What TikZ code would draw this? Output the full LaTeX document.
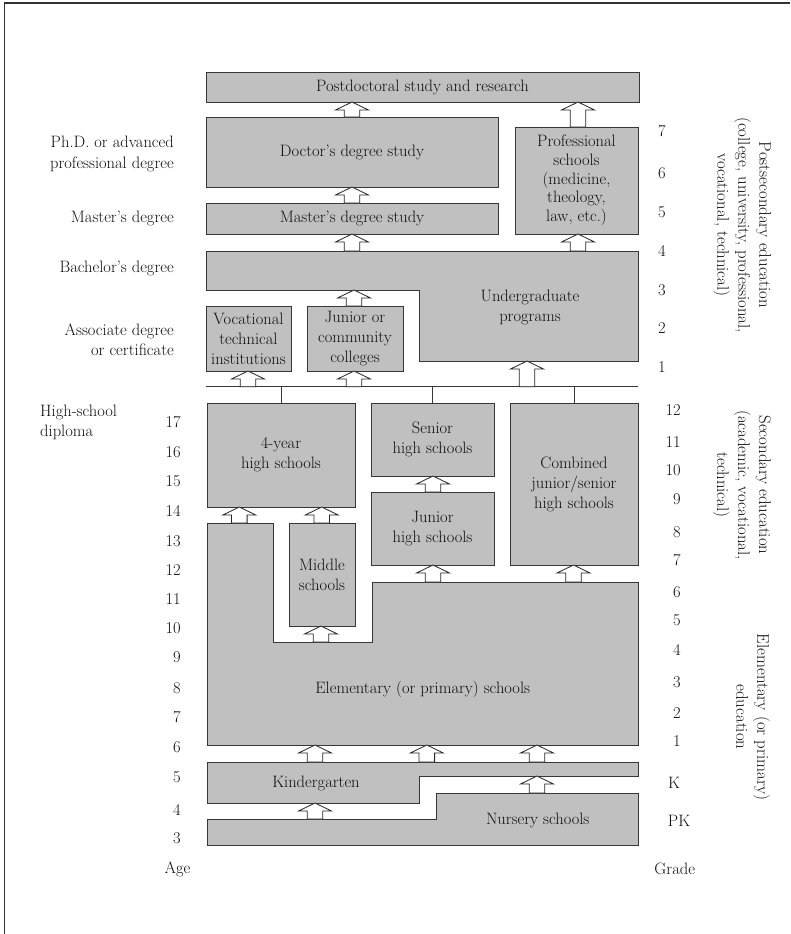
\documentclass[tikz,border=0pt]{standalone}
\usepackage{fontspec}
\usetikzlibrary{calc}
\definecolor{boxgray}{RGB}{192,192,192}
\definecolor{edge}{RGB}{55,55,55}
\definecolor{ink}{RGB}{15,15,15}
\newcommand\blkarr[4][7.8]{%
  \draw[blockarr] let \p1=(#3), \p2=(#4), \p3=(#2,0) in
    (\x3,\y1) -- (\x3+16.5pt,\y1-8pt) -- (\x3+#1pt,\y1-8pt) -- (\x3+#1pt,\y2)
    -- (\x3-#1pt,\y2) -- (\x3-#1pt,\y1-8pt) -- (\x3-16.5pt,\y1-8pt) -- cycle;}
\begin{document}
\begin{tikzpicture}[x=1pt,y=-1pt,
  font=\fontsize{16.5}{20}\selectfont,
  box/.style={draw=edge, fill=boxgray, line width=0.8pt, inner sep=0pt, outer sep=0pt, align=center, text=ink},
  regionbox/.style={draw=edge, fill=boxgray, line width=0.8pt},
  blockarr/.style={draw=black!85, fill=white, line width=0.8pt, line join=miter},
  conn/.style={draw=edge, line width=0.8pt},
  lbl/.style={text=ink, inner sep=0pt},
  side/.style={text=ink, inner sep=0pt, align=center, rotate=-90, font=\fontsize{16.8}{21}\selectfont}]
\useasboundingbox (0,0) rectangle (790,934);
% frame
\draw[black!80, line width=1.3pt] (4.5,934) -- (4.5,3) -- (790,3);

% postsecondary
\node[box, minimum width=433pt, minimum height=30pt] (postdoc) at (422.5,87) {Postdoctoral study and research};
\node[box, minimum width=292pt, minimum height=70pt] (doctor) at (352,152) {Doctor’s degree study};
\node[box, minimum width=292pt, minimum height=31pt] (master) at (352,218.5) {Master’s degree study};
\node[box, minimum width=123pt, minimum height=107pt, font=\fontsize{16.5}{18.7}\selectfont] (prof) at (576.5,180.5) {Professional\\schools\\(medicine,\\theology,\\law, etc.)};
\draw[regionbox] (206,251) -- (638,251) -- (638,361) -- (419,361) -- (419,290) -- (206,290) -- cycle;
\node[lbl, align=center] (ugtext) at (530,307.5) {Undergraduate\\programs};
\coordinate (ug-top) at (300,251);
\coordinate (ug-lbot) at (300,290);
\coordinate (ug-rbot) at (530,361);
\node[box, minimum width=85pt, minimum height=65pt] (voc) at (248.5,338.5) {Vocational\\technical\\institutions};
\node[box, minimum width=96pt, minimum height=65pt] (jc) at (355,338.5) {Junior or\\community\\colleges};

% distribution line
\coordinate (hlw) at (206,386.7);
\coordinate (hle) at (638,386.7);
\coordinate (hl) at (300,386.7);
\draw[conn] (hlw) -- (hle);

% secondary
\node[box, minimum width=148pt, minimum height=104pt] (fouryr) at (281,455) {4-year\\high schools};
\node[box, minimum width=123pt, minimum height=73pt] (senior) at (432.5,439.5) {Senior\\high schools};
\node[box, minimum width=123pt, minimum height=73pt] (juniorhs) at (432.5,528.5) {Junior\\high schools};
\node[box, minimum width=128pt, minimum height=162pt] (combined) at (574,484) {Combined\\junior/senior\\high schools};
\draw[conn] (fouryr.north) -- (fouryr.north |- hl);
\draw[conn] (senior.north) -- (senior.north |- hl);
\draw[conn] (combined.north) -- (combined.north |- hl);

% elementary
\draw[regionbox] (207,523) -- (273,523) -- (273,642) -- (372,642) -- (372,582) -- (638,582) -- (638,745) -- (207,745) -- cycle;
\node[lbl] (eltext) at (422.7,689.3) {Elementary (or primary) schools};
\coordinate (el-top) at (240,523);
\coordinate (el-mid) at (320,642);
\coordinate (el-right) at (500,582);
\coordinate (el-bot) at (400,745);
\node[box, minimum width=66pt, minimum height=103pt] (middle) at (322,574.5) {Middle\\schools};

% kindergarten and nursery
\draw[regionbox] (207,762) -- (638,762) -- (638,776) -- (419.5,776) -- (419.5,803) -- (207,803) -- cycle;
\node[lbl] (kgtext) at (316,783) {Kindergarten};
\coordinate (kg-top) at (400,762);
\coordinate (kg-lbot) at (300,803);
\coordinate (kg-rbot) at (530,776);
\draw[regionbox] (436,793) -- (638,793) -- (638,845) -- (207,845) -- (207,819) -- (436,819) -- cycle;
\node[lbl] (nstext) at (537.7,820.7) {Nursery schools};
\coordinate (ns-rtop) at (530,793);
\coordinate (ns-ltop) at (300,819);

% block arrows
\blkarr{352}{postdoc.south}{doctor.north}
\blkarr{578}{postdoc.south}{prof.north}
\blkarr{352}{doctor.south}{master.north}
\blkarr{352}{master.south}{ug-top}
\blkarr{578}{prof.south}{ug-top}
\blkarr{354}{ug-lbot}{jc.north}
\blkarr{527}{ug-rbot}{hl}
\blkarr{248}{voc.south}{hl}
\blkarr{354}{jc.south}{hl}
\blkarr{239.3}{fouryr.south}{el-top}
\blkarr{321.7}{fouryr.south}{middle.north}
\blkarr{433}{senior.south}{juniorhs.north}
\blkarr{321}{middle.south}{el-mid}
\blkarr{433}{juniorhs.south}{el-right}
\blkarr{573.5}{combined.south}{el-right}
\blkarr{315}{el-bot}{kg-top}
\blkarr{426.8}{el-bot}{kg-top}
\blkarr{537}{el-bot}{kg-top}
\blkarr{315}{kg-lbot}{ns-ltop}
\blkarr{537}{kg-rbot}{ns-rtop}

% left labels
\node[lbl, align=right, anchor=east, font=\fontsize{16.5}{21.5}\selectfont] (phd) at (174,154) {Ph.D. or advanced\\professional degree};
\node[lbl, anchor=east] (msd) at (174,218.3) {Master’s degree};
\node[lbl, anchor=east] (bad) at (174,268.3) {Bachelor’s degree};
\node[lbl, align=right, anchor=east] (asd) at (174,339.3) {Associate degree\\or certificate};
\node[lbl, align=left, anchor=west] (hsd) at (40,422) {High-school\\diploma};

% ages
\foreach \a/\y in {17/421.7,16/452.3,15/481,14/511,13/540.7,12/570,11/599,10/628.3,9/656.7,8/688.3,7/716.7,6/747.5,5/776.7,4/810,3/838.3}
  \node[lbl, anchor=east] (age\a) at (181,\y) {\a};
\node[lbl] (agelbl) at (177.5,869.3) {Age};

% grades
\foreach \g/\y in {7/131,6/173,5/211.7,4/251,3/290,2/328,1/366.7}
  \node[lbl] (pg\g) at (662,\y) {\g};
\foreach \g/\y in {12/410,11/441.7,10/470,9/499.3,8/531.7,7/560}
  \node[lbl, anchor=east] (sg\g) at (681,\y) {\g};
\foreach \g/\y in {6/591.7,5/620,4/650,3/681.7,2/712.7,1/741}
  \node[lbl, anchor=east] (eg\g) at (681,\y) {\g};
\node[lbl] (gk) at (674,783.3) {K};
\node[lbl] (gpk) at (679,820.7) {PK};
\node[lbl] (gradelbl) at (674.7,869.3) {Grade};

% side labels
\node[side] (postsec) at (742,225) {Postsecondary education\\(college, university, professional,\\vocational, technical)};
\node[side] (secon) at (742,485) {Secondary education\\(academic, vocational,\\technical)};
\node[side] (elemed) at (753,717) {Elementary (or primary)\\education};
\end{tikzpicture}
\end{document}
